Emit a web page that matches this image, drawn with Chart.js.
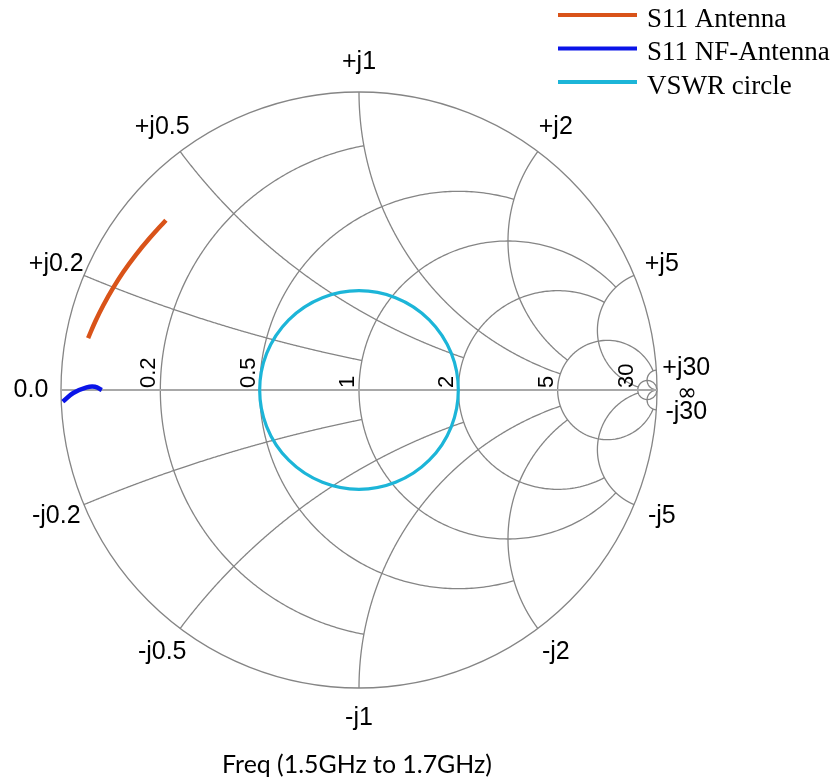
<!DOCTYPE html>
<html>
<head>
<meta charset="utf-8">
<script src="https://cdn.jsdelivr.net/npm/chart.js@4.4.1/dist/chart.umd.min.js"></script>
<style>
  html, body { margin: 0; padding: 0; background: #fff; }
  canvas { display: block; }
</style>
</head>
<body>
<canvas id="smith" width="838" height="782"></canvas>
<script>
// series
const seriesNames = ['S11 Antenna', 'S11 NF-Antenna', 'VSWR circle'];
const seriesColors = ['#D95319', '#0A14E8', '#1CB5D8'];

const antennaRe = [-0.909, -0.885, -0.857, -0.826, -0.791, -0.750, -0.703, -0.648];
const antennaIm = [0.174, 0.230, 0.286, 0.341, 0.396, 0.452, 0.509, 0.570];
const nfRe = [-0.994, -0.959, -0.914, -0.886, -0.863];
const nfIm = [-0.039, -0.010, 0.009, 0.011, 0.000];
const vswr = 2;

// grid: normalized resistance / reactance values and where each line stops
const resistanceValues = [0.2, 0.5, 1, 2, 5, 30];
const resistanceStop = [1, 2, 5, 5, 30, Infinity];   // max |x|
const reactanceValues = [0.2, 0.5, 1, 2, 5, 30];
const reactanceStop = [1, 2, 5, 5, 30, Infinity];    // max r
const resistanceLabels = ['0.2', '0.5', '1', '2', '5', '30'];
const reactanceLabels = ['0.2', '0.5', '1', '2', '5', '30'];
const caption = 'Freq (1.5GHz to 1.7GHz)';

function zToG(r, x) {
  const d = (r + 1) * (r + 1) + x * x;
  return [((r - 1) * (r + 1) + x * x) / d, (x * (r + 1) - (r - 1) * x) / d];
}

const toPoints = (re, im) => re.map((v, i) => ({ x: v, y: im[i] }));

const smithPlugin = {
  id: 'smith',
  beforeDatasetsDraw(chart) {
    const { ctx } = chart;
    const xs = chart.scales.x, ys = chart.scales.y;
    const P = (g) => [xs.getPixelForValue(g[0]), ys.getPixelForValue(g[1])];
    const c = P([0, 0]);
    const R = xs.getPixelForValue(1) - c[0];

    const trace = (fn, a, b) => {
      ctx.beginPath();
      const n = 400;
      for (let k = 0; k <= n; k++) {
        const p = P(fn(a + (b - a) * k / n));
        if (k === 0) ctx.moveTo(p[0], p[1]); else ctx.lineTo(p[0], p[1]);
      }
      ctx.stroke();
    };

    ctx.save();
    ctx.strokeStyle = '#858585';
    ctx.lineWidth = 1.3;
    ctx.beginPath();
    ctx.arc(c[0], c[1], R, 0, Math.PI * 2);
    ctx.stroke();

    resistanceValues.forEach((r, i) => {
      const lim = Math.atan(resistanceStop[i]);
      trace((t) => zToG(r, Math.tan(t)), -lim, lim);
    });
    reactanceValues.forEach((x, i) => {
      const lim = Math.atan(reactanceStop[i]);
      trace((t) => zToG(Math.tan(t), x), 0, lim);
      trace((t) => zToG(Math.tan(t), -x), 0, lim);
    });

    ctx.strokeStyle = '#a8a8a8';
    ctx.lineWidth = 2;
    ctx.beginPath();
    ctx.moveTo(xs.getPixelForValue(-1), c[1]);
    ctx.lineTo(xs.getPixelForValue(1), c[1]);
    ctx.stroke();

    // constant VSWR circle
    const rho = (vswr - 1) / (vswr + 1);
    ctx.strokeStyle = seriesColors[2];
    ctx.lineWidth = 3.2;
    ctx.beginPath();
    ctx.arc(c[0], c[1], xs.getPixelForValue(rho) - c[0], 0, Math.PI * 2);
    ctx.stroke();
    ctx.restore();
  },
  afterDraw(chart) {
    const { ctx } = chart;
    const xs = chart.scales.x, ys = chart.scales.y;
    const P = (g) => [xs.getPixelForValue(g[0]), ys.getPixelForValue(g[1])];
    const c = P([0, 0]);
    const R = xs.getPixelForValue(1) - c[0];
    ctx.save();
    ctx.fillStyle = '#000';

    // reactance labels around the rim
    ctx.font = '25px "Liberation Sans", Arial, sans-serif';
    ctx.textAlign = 'center';
    ctx.textBaseline = 'middle';
    const rim = (th, txt, dy) => {
      ctx.fillText(txt, c[0] + (R + 30) * Math.cos(th), c[1] - (R + 30) * Math.sin(th) + (dy || 0));
    };
    reactanceValues.forEach((x, i) => {
      const g = zToG(0, x);
      const th = Math.atan2(g[1], g[0]);
      rim(th, '+j' + reactanceLabels[i]);
      rim(-th, '-j' + reactanceLabels[i]);
    });
    rim(Math.PI, '0.0');
    ctx.font = '24px "DejaVu Sans", sans-serif';
    rim(0, '\u221E', 4);

    // resistance labels along the real axis
    ctx.font = '22px "Liberation Sans", Arial, sans-serif';
    ctx.textAlign = 'left';
    ctx.textBaseline = 'alphabetic';
    resistanceValues.forEach((r, i) => {
      const p = P(zToG(r, 0));
      ctx.save();
      ctx.translate(p[0] - 5, c[1] - 2);
      ctx.rotate(-Math.PI / 2);
      ctx.fillText(resistanceLabels[i], 0, 0);
      ctx.restore();
    });

    // legend
    ctx.font = '27px "Liberation Serif", "Times New Roman", serif';
    seriesNames.forEach((name, i) => {
      const y = 15 + i * 33.5;
      ctx.strokeStyle = seriesColors[i];
      ctx.lineWidth = 4;
      ctx.beginPath();
      ctx.moveTo(558, y);
      ctx.lineTo(637, y);
      ctx.stroke();
      ctx.fillText(name, 647, y + 11.5);
    });

    // caption
    ctx.textAlign = 'center';
    ctx.textBaseline = 'middle';
    ctx.font = '22px Lato, "Open Sans", sans-serif';
    const w = ctx.measureText(caption).width;
    ctx.font = (22 * 270 / w).toFixed(1) + 'px Lato, "Open Sans", sans-serif';
    ctx.fillText(caption, 357, 765);
    ctx.restore();
  }
};

new Chart(document.getElementById('smith'), {
  type: 'scatter',
  data: {
    datasets: [
      {
        label: seriesNames[0],
        data: toPoints(antennaRe, antennaIm),
        showLine: true,
        borderColor: seriesColors[0],
        borderWidth: 4.5,
        tension: 0.4,
        pointRadius: 0
      },
      {
        label: seriesNames[1],
        data: toPoints(nfRe, nfIm),
        showLine: true,
        borderColor: seriesColors[1],
        borderWidth: 4.5,
        tension: 0.4,
        pointRadius: 0
      }
    ]
  },
  options: {
    responsive: false,
    animation: false,
    layout: { padding: { left: 61, right: 181, top: 92, bottom: 94 } },
    scales: {
      x: { type: 'linear', min: -1, max: 1, display: false },
      y: { type: 'linear', min: -1, max: 1, display: false }
    },
    plugins: {
      legend: { display: false },
      tooltip: { enabled: false }
    }
  },
  plugins: [smithPlugin]
});
</script>
</body>
</html>
